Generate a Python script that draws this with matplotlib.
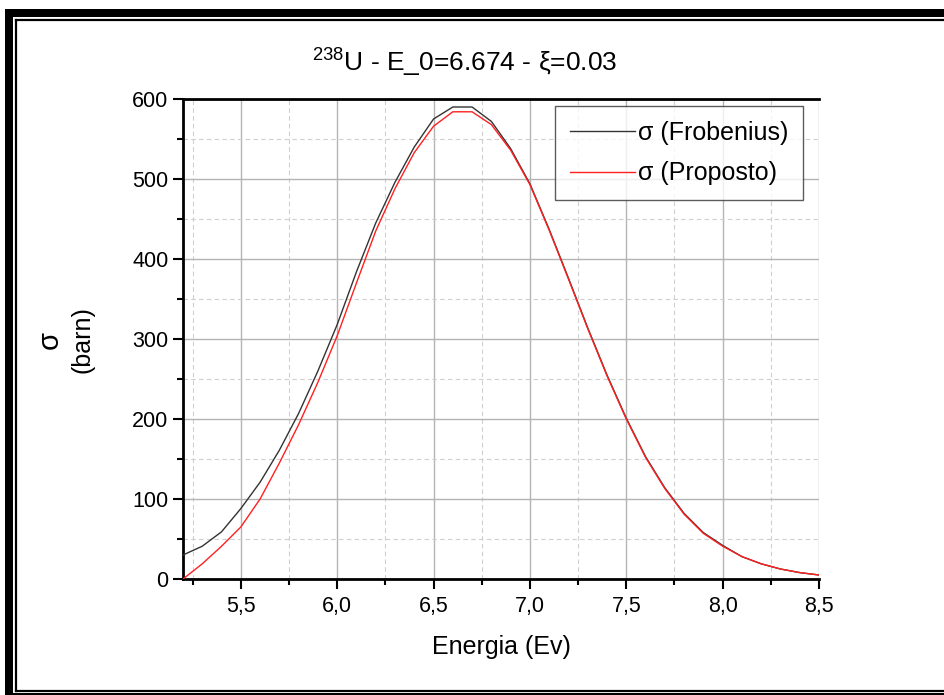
import numpy as np
import matplotlib
matplotlib.use('Agg')
from matplotlib import pyplot as plt
from matplotlib.patches import Rectangle
from matplotlib.lines import Line2D
from matplotlib.ticker import MultipleLocator, FuncFormatter

plt.rcParams['font.family'] = ['Liberation Sans', 'DejaVu Sans']
plt.rcParams['mathtext.fontset'] = 'custom'
plt.rcParams['mathtext.rm'] = 'Liberation Sans'

energia = [5.2, 5.3, 5.4, 5.5, 5.6, 5.7, 5.8, 5.9, 6.0, 6.1, 6.2,
           6.3, 6.4, 6.5, 6.6, 6.7, 6.8, 6.9, 7.0, 7.1, 7.2, 7.3,
           7.4, 7.5, 7.6, 7.7, 7.8, 7.9, 8.0, 8.1, 8.2, 8.3, 8.4, 8.5]
sigma_frobenius = [30, 41, 59, 88, 121, 161, 207, 260, 318, 384, 445,
                   496, 540, 575, 590, 590, 572, 538, 494, 437, 376, 314,
                   255, 201, 153, 114, 82, 58, 42, 28, 19, 12.5, 8, 5]
sigma_proposto = [0, 19, 41, 65, 100, 145, 193, 246, 304, 370, 435,
                  488, 533, 566, 584, 584, 568, 536, 493, 436, 375, 313,
                  254, 200, 152, 113, 81, 57, 41, 28, 19, 12.5, 8, 5]

W, H = 945, 695
fig = plt.figure(figsize=(W / 100, H / 100), dpi=100)
ax = fig.add_axes([183 / W, 1 - 579 / H, (819 - 183) / W, (579 - 99) / H])

ax.plot(energia, sigma_frobenius, color='#333333', linewidth=1.0,
        label=u'\u03c3 (Frobenius)', zorder=3)
ax.plot(energia, sigma_proposto, color='#ff2020', linewidth=1.0,
        label=u'\u03c3 (Proposto)', zorder=3)

ax.set_xlim(5.2, 8.5)
ax.set_ylim(0, 600)
ax.xaxis.set_major_locator(MultipleLocator(0.5))
ax.xaxis.set_minor_locator(MultipleLocator(0.25))
ax.yaxis.set_major_locator(MultipleLocator(100))
ax.yaxis.set_minor_locator(MultipleLocator(50))
ax.xaxis.set_major_formatter(FuncFormatter(lambda v, p: ('%.1f' % v).replace('.', ',')))

ax.grid(which='major', color='#b4b4b4', linewidth=1.0, linestyle='-')
ax.grid(which='minor', color='#cfcfcf', linewidth=0.8, linestyle=(0, (4, 3)))
ax.set_axisbelow(True)

ax.spines['right'].set_visible(False)
for s in ['left', 'bottom', 'top']:
    ax.spines[s].set_linewidth(2.0)
ax.tick_params(which='major', direction='out', length=7, width=1.5,
               labelsize=15.5, top=False, right=False)
ax.tick_params(which='minor', direction='out', length=4, width=1.5,
               top=False, right=False)
ax.tick_params(axis='x', pad=5)

ax.set_xlabel('Energia (Ev)', fontsize=18, labelpad=13)
fig.text(50 / W, 1 - 340 / H, u'\u03c3', rotation=90, fontsize=21,
         ha='center', va='center')
fig.text(83 / W, 1 - 340 / H, '(barn)', rotation=90, fontsize=18,
         ha='center', va='center')

fig.text(465 / W, 1 - 62 / H, u'$^{238}$U - E_0=6.674 - \u03be=0.03',
         fontsize=19, ha='center', va='center')

leg = ax.legend(loc='upper right', bbox_to_anchor=(620 / 636, 1 - 7 / 480),
                borderaxespad=0, fontsize=18, frameon=True, fancybox=False,
                handlelength=2.6, handletextpad=0.1, borderpad=0.6,
                labelspacing=0.65)
leg.get_frame().set_edgecolor('#333333')
leg.get_frame().set_linewidth(1.0)

# black frame around the picture
def px(x0, y0, x1, y1):
    return Rectangle((x0 / W, 1 - y1 / H), (x1 - x0) / W, (y1 - y0) / H,
                     transform=fig.transFigure, facecolor='black',
                     edgecolor='none')

fig.patches.extend([px(5, 9, 13, 695), px(5, 9, W, 17), px(5, 693, W, 695)])
fig.lines.extend([
    Line2D([16 / W, 16 / W], [1 - 20 / H, 1 - 691 / H], transform=fig.transFigure,
           color='black', linewidth=1.6),
    Line2D([16 / W, 1], [1 - 20 / H, 1 - 20 / H], transform=fig.transFigure,
           color='black', linewidth=1.6),
    Line2D([16 / W, 1], [1 - 691 / H, 1 - 691 / H], transform=fig.transFigure,
           color='black', linewidth=1.6),
])

plt.savefig('out.png', dpi=100)
